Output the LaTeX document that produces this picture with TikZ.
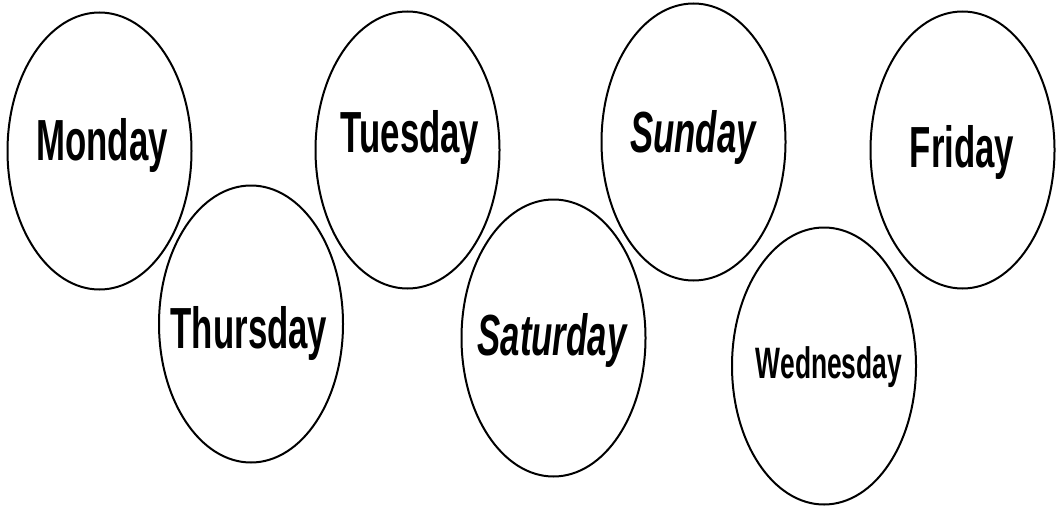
\documentclass[tikz,border=0pt]{standalone}
\usepackage{fontspec}
\newfontfamily\dayfont[FakeStretch=0.6]{Liberation Sans}
\usetikzlibrary{shapes.geometric}
\tikzset{
  day/.style={ellipse, draw, line width=2pt, inner sep=0pt,
              minimum width=184pt, minimum height=277pt},
  word/.style={anchor=base, inner sep=0pt,
               font=\dayfont\bfseries\fontsize{58}{60}\selectfont},
  slant/.style={word, font=\dayfont\bfseries\itshape\fontsize{58}{60}\selectfont},
  small/.style={word, font=\dayfont\bfseries\fontsize{44}{46}\selectfont},
}
\begin{document}
\begin{tikzpicture}[x=1pt, y=-1pt]
    \useasboundingbox (0,0) rectangle (1056,506);
    % ellipses
    \node[day] (mon) at (99.5,151) {};
    \node[day] (thu) at (251,324) {};
    \node[day] (tue) at (407.5,150) {};
    \node[day] (sat) at (553.5,338) {};
    \node[day] (sun) at (693.5,142) {};
    \node[day] (wed) at (824,366) {};
    \node[day] (fri) at (962.5,150) {};
    % names
    \node[word] (mon-t) at (102,160) {Monday};
    \node[word] (thu-t) at (249,348) {Thursday};
    \node[word] (tue-t) at (410,152) {Tuesday};
    \node[slant] (sat-t) at (552,355) {Saturday};
    \node[slant] (sun-t) at (693,152) {Sunday};
    \node[small] (wed-t) at (829,378) {Wednesday};
    \node[word] (fri-t) at (962,167) {Friday};
  \end{tikzpicture}
\end{document}
